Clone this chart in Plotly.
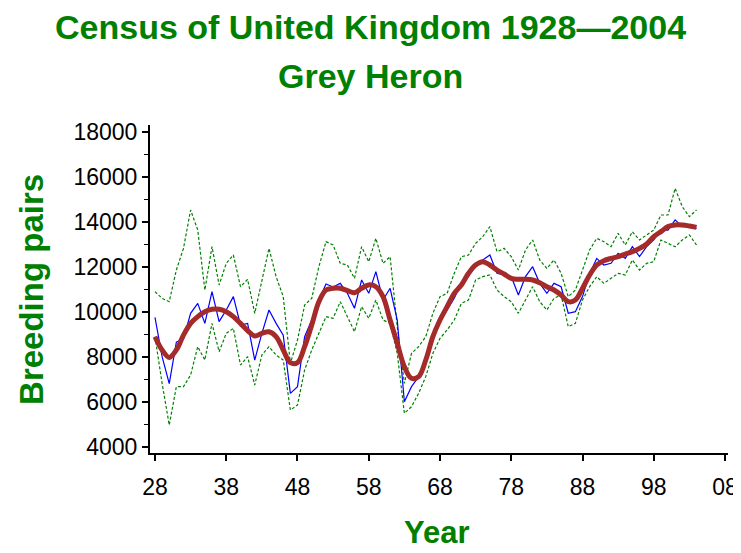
import plotly.graph_objects as go

years = list(range(1928, 2005))

annual = [9750, 8000, 6800, 8650, 8800, 9930, 10370, 9480, 10890, 9560,
          10075, 10670, 9410, 9480, 7850, 9040, 10075, 9480, 8960, 6370,
          6670, 8890, 9630, 10520, 11230, 11100, 11260, 10816, 10150, 11410,
          10816, 11780, 10520, 11040, 9630, 6000, 6670, 7110, 7850, 8740,
          9630, 10075, 10600, 11260, 11560, 12150, 12300, 12520, 11705, 11630,
          11560, 10740, 11560, 12000, 11260, 10816, 11260, 11110, 9930, 10000,
          10670, 11700, 12370, 12075, 12150, 12590, 12370, 12890, 12450, 12890,
          13190, 13630, 13630, 14080, 13780, 13850, 13700]

smooth = [8890, 8300, 7970, 8300, 8960, 9480, 9780, 10000, 10105, 10105,
          10000, 9780, 9480, 9160, 8920, 9040, 9110, 8890, 8300, 7735,
          7735, 8445, 9410, 10445, 10965, 11040, 11040, 10935, 10846, 11040,
          11190, 11110, 10670, 9630, 8594, 7557, 7040, 7113, 7853, 8890,
          9630, 10224, 10816, 11190, 11705, 12075, 12224, 12075, 11850, 11675,
          11483, 11440, 11440, 11410, 11290, 11110, 10965, 10740, 10445, 10520,
          11040, 11630, 12075, 12268, 12370, 12446, 12564, 12668, 12816, 13009,
          13335, 13557, 13780, 13853, 13853, 13810, 13750]

upper = [10890, 10594, 10446, 11853, 12816, 14520, 13631, 10965, 12890, 11187,
         12150, 12520, 11110, 11438, 9927, 11409, 12816, 11557, 10668, 7705,
         8742, 10298, 10594, 12001, 13113, 12964, 12150, 12075, 11483, 12890,
         12224, 13261, 12150, 12446, 9335, 6816, 8150, 8446, 8890, 9927,
         10668, 10816, 11705, 12446, 12520, 13038, 13335, 13779, 12668, 12816,
         12446, 11853, 12742, 13187, 12298, 11927, 12298, 11705, 10668, 10964,
         11853, 12742, 13261, 13112, 12890, 13483, 12964, 13557, 13187, 13409,
         13631, 14298, 14298, 15483, 14668, 14224, 14520]

lower = [8890, 6816, 4964, 6668, 6668, 7187, 8446, 7853, 9483, 8224,
         9038, 9261, 7631, 8001, 6742, 8076, 8446, 8076, 7853, 5631,
         5853, 7409, 8298, 9038, 9779, 9705, 10446, 9779, 9113, 10224,
         9705, 10520, 9631, 9483, 8150, 5483, 5779, 6372, 7113, 8150,
         8816, 9187, 9631, 10372, 10520, 11409, 11557, 11631, 10964, 10668,
         10446, 9927, 10520, 11113, 10446, 10076, 10594, 10742, 9335, 9483,
         10520, 11113, 11557, 11261, 11483, 11705, 11631, 12298, 11853, 12150,
         12224, 13187, 13038, 12890, 13187, 13409, 12964]

x_tick_vals = [1928, 1938, 1948, 1958, 1968, 1978, 1988, 1998, 2008]
x_tick_text = ["28", "38", "48", "58", "68", "78", "88", "98", "08"]
y_tick_vals = [4000, 6000, 8000, 10000, 12000, 14000, 16000, 18000]
y_tick_text = [str(v) for v in y_tick_vals]

GREEN = "#008000"
FONT = "Liberation Sans"

fig = go.Figure()
fig.add_trace(go.Scatter(x=years, y=upper, mode="lines",
                         line=dict(color=GREEN, width=1.2, dash="3px,2px"), hoverinfo="skip"))
fig.add_trace(go.Scatter(x=years, y=lower, mode="lines",
                         line=dict(color=GREEN, width=1.2, dash="3px,2px"), hoverinfo="skip"))
fig.add_trace(go.Scatter(x=years, y=annual, mode="lines",
                         line=dict(color="#0000FF", width=1.2)))
fig.add_trace(go.Scatter(x=years, y=smooth, mode="lines",
                         line=dict(color="#A52A2A", width=5, shape="spline")))

# The page body has an 8px default margin, so the figure is drawn 8px smaller
# and its margins are reduced by 8px to land where the reference's plot area is.
fig.update_layout(
    width=733, height=545,
    margin=dict(l=142, r=13, t=117, b=100),
    paper_bgcolor="white", plot_bgcolor="white",
    showlegend=False,
    font=dict(family=FONT, color="black"),
    xaxis=dict(range=[1927.3, 2008.42], tickvals=x_tick_vals, ticktext=x_tick_text,
               automargin=False,
               showgrid=False, zeroline=False, showline=True, linecolor="black", linewidth=2,
               ticks="outside", ticklen=6, tickwidth=1.5, tickcolor="black",
               tickfont=dict(size=23, family=FONT, color="black"), ticklabelstandoff=6),
    yaxis=dict(range=[3720, 18298], tickvals=y_tick_vals, ticktext=y_tick_text,
               automargin=False,
               showgrid=False, zeroline=False, showline=True, linecolor="black", linewidth=2,
               ticks="outside", ticklen=6, tickwidth=1.5, tickcolor="black",
               minor=dict(dtick=1000, ticks="outside", ticklen=4, tickcolor="black", tickwidth=1),
               tickfont=dict(size=23, family=FONT, color="black"), ticklabelstandoff=0),
    annotations=[
        dict(text="<b>Census of United Kingdom 1928—2004</b>", x=0.381, xref="paper",
             xanchor="center", y=1.300, yref="paper", yanchor="middle", showarrow=False,
             font=dict(size=34, color=GREEN, family=FONT)),
        dict(text="<b>Grey Heron</b>", x=0.381, xref="paper", xanchor="center",
             y=1.150, yref="paper", yanchor="middle", showarrow=False,
             font=dict(size=34, color=GREEN, family=FONT)),
        dict(text="<b>Year</b>", x=0.497, xref="paper", xanchor="center",
             y=-0.243, yref="paper", yanchor="middle", showarrow=False,
             font=dict(size=31, color=GREEN, family=FONT)),
        dict(text="<b>Breeding pairs</b>", x=-0.206, xref="paper", xanchor="center",
             y=0.5, yref="paper", yanchor="middle", showarrow=False, textangle=-90,
             font=dict(size=33, color=GREEN, family=FONT)),
    ],
)

fig.write_html("out.html")
